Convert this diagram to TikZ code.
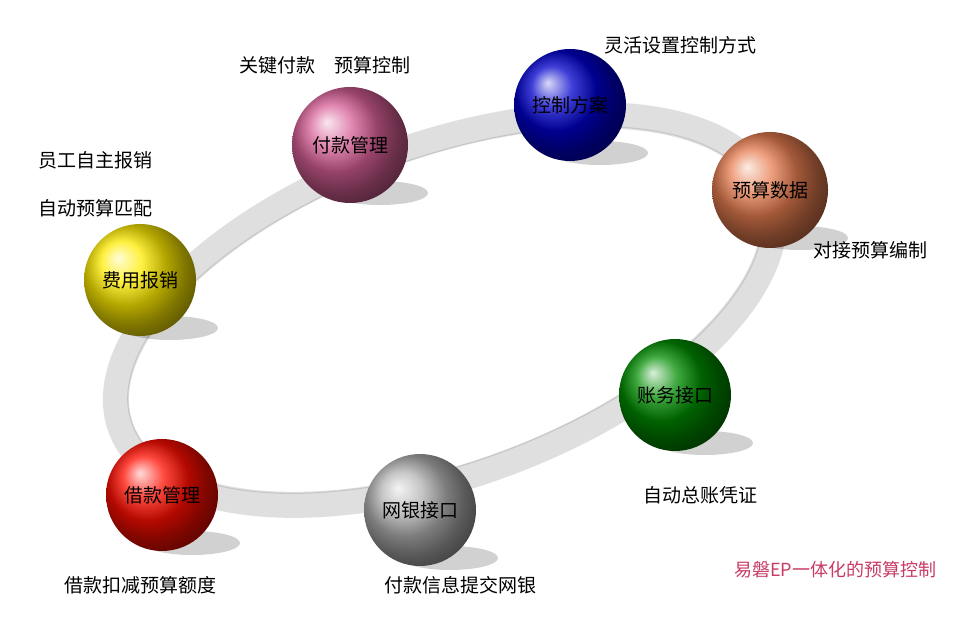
\documentclass[tikz,border=0pt]{standalone}
\usepackage{fontspec}
\setmainfont{Noto Sans CJK SC}
\definecolor{pinkball}{RGB}{215,95,150}
\definecolor{orangeball}{RGB}{230,125,80}
\begin{document}
\begin{tikzpicture}[x=1pt,y=1pt,
  ball/.style={circle,minimum size=112pt,inner sep=0pt,shading=ball,font=\fontsize{19}{21}\selectfont,text=black},
  lbl/.style={font=\fontsize{19}{21}\selectfont,text=black}]
\useasboundingbox (0,0) rectangle (960,635);
\fill[white] (0,0) rectangle (960,635);
% ring
\draw[line width=26pt,gray!25,rotate around={20:(445,325)}] (445,325) ellipse [x radius=345,y radius=165];
\draw[line width=1pt,gray!45,rotate around={20:(445,325)}] (445,325) ellipse [x radius=333,y radius=153];
% shadows
\foreach \x/\y in {140/355,350/490,570/530,770/445,675/240,420/125,162/140}
  \fill[black,opacity=0.18] (\x+30,\y-48) ellipse [x radius=48,y radius=12];
\node[ball,ball color=yellow!85!orange] (fy) at (140,355) {费用报销};
\node[ball,ball color=pinkball,minimum size=116pt] (fk) at (350,490) {付款管理};
\node[ball,ball color=blue!80!black] (kz) at (570,530) {控制方案};
\node[ball,ball color=orangeball,minimum size=116pt] (ys) at (770,445) {预算数据};
\node[ball,ball color=green!55!black] (zw) at (675,240) {账务接口};
\node[ball,ball color=gray!60] (wy) at (420,125) {网银接口};
\node[ball,ball color=red!90!orange] (jk) at (162,140) {借款管理};
% labels
\node[lbl] (l1) at (325,570) {关键付款\quad 预算控制};
\node[lbl] (l2) at (95,475) {员工自主报销};
\node[lbl] (l3) at (95,427) {自动预算匹配};
\node[lbl] (l4) at (680,590) {灵活设置控制方式};
\node[lbl] (l5) at (870,385) {对接预算编制};
\node[lbl] (l6) at (700,140) {自动总账凭证};
\node[lbl] (l7) at (140,50) {借款扣减预算额度};
\node[lbl] (l8) at (460,50) {付款信息提交网银};
\node[font=\fontsize{18}{20}\selectfont,text={rgb,255:red,200;green,60;blue,100}] (t) at (835,65) {易磐EP一体化的预算控制};
\end{tikzpicture}
\end{document}
